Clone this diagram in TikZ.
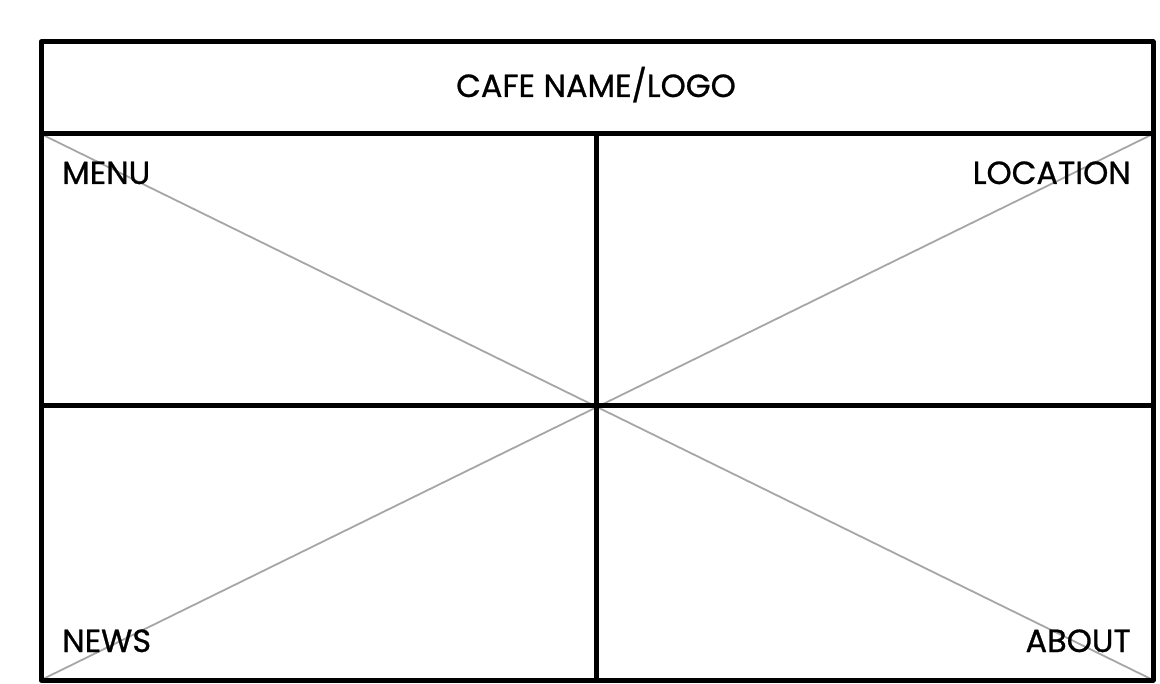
\documentclass[tikz,border=0pt]{standalone}
\usepackage{fontspec}
\setmainfont{Poppins}[BoldFont=Poppins, BoldFeatures={FakeBold=0.8}]
\usetikzlibrary{positioning}
\tikzset{
  frame/.style={line width=5pt, black},
  cross/.style={line width=1.8pt, black!35},
  label/.style={inner sep=0pt, font=\fontsize{32}{32}\selectfont\bfseries},
}
\begin{document}
\begin{tikzpicture}[x=1pt,y=-1pt]
    \useasboundingbox (0,0) rectangle (1160,684);
    \coordinate (tl) at (41,42);
    \coordinate (br) at (1153,680);
    \coordinate (hl) at (41,134);
    \coordinate (hr) at (1153,134);
    \coordinate (bl) at (41,680);
    \coordinate (mt) at (596,134);
    \coordinate (mb) at (596,680);
    \coordinate (ml) at (41,406);
    \coordinate (mr) at (1153,406);
    % placeholder cross
    \draw[cross] (hl) -- (br);
    \draw[cross] (bl) -- (hr);
    % wireframe
    \draw[frame, line join=round] (tl) rectangle (br);
    \draw[frame] (hl) -- (hr);
    \draw[frame] (mt) -- (mb);
    \draw[frame] (ml) -- (mr);
    % labels
    \node[label, anchor=base] (logo) at (596,97) {CAFE NAME/LOGO};
    \node[label, anchor=base west] (menu) at (62,184) {MENU};
    \node[label, anchor=base east] (location) at (1131,184) {LOCATION};
    \node[label, anchor=base west] (news) at (62,652) {NEWS};
    \node[label, anchor=base east] (about) at (1131,652) {ABOUT};
\end{tikzpicture}
\end{document}
